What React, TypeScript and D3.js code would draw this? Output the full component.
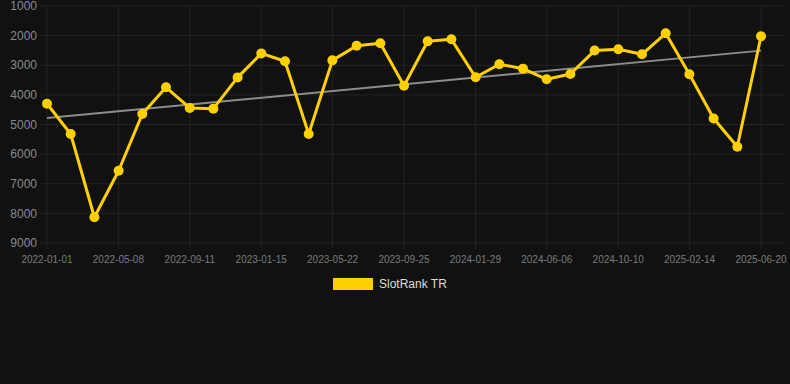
import React from "react";
import * as d3 from "d3";

const dates = [
  "2022-01-01", "2022-02-12", "2022-03-26", "2022-05-08", "2022-06-19", "2022-07-31",
  "2022-09-11", "2022-10-23", "2022-12-05", "2023-01-16", "2023-02-27", "2023-04-10",
  "2023-05-22", "2023-07-04", "2023-08-15", "2023-09-26", "2023-11-07", "2023-12-19",
  "2024-01-31", "2024-03-13", "2024-04-24", "2024-06-05", "2024-07-17", "2024-08-29",
  "2024-10-10", "2024-11-21", "2025-01-02", "2025-02-13", "2025-03-28", "2025-05-09",
  "2025-06-20",
];
const ranks = [
  4300, 5320, 8130, 6560, 4645, 3745, 4440, 4465, 3410, 2600, 2865, 5320, 2835, 2340,
  2260, 3690, 2190, 2125, 3405, 2965, 3115, 3475, 3295, 2505, 2460, 2630, 1920, 3305,
  4800, 5750, 2020,
];
const yTicks = [1000, 2000, 3000, 4000, 5000, 6000, 7000, 8000, 9000];
const xTickLabels = [
  "2022-01-01", "2022-05-08", "2022-09-11", "2023-01-15", "2023-05-22", "2023-09-25",
  "2024-01-29", "2024-06-06", "2024-10-10", "2025-02-14", "2025-06-20",
];
const seriesName = "SlotRank TR";

const W = 790;
const H = 384;
const left = 40;
const right = 785;
const x0 = 47;
const x1 = 761;
const top = 6;
const bottom = 243;

export default function App() {
  const parse = d3.timeParse("%Y-%m-%d");
  const pts = dates.map((d, i) => ({ t: parse(d)!, v: ranks[i] }));
  const x = d3
    .scaleTime()
    .domain([parse(dates[0])!, parse(dates[dates.length - 1])!])
    .range([x0, x1]);
  const y = d3.scaleLinear().domain([1000, 9000]).range([top, bottom]);

  const line = d3
    .line<{ t: Date; v: number }>()
    .x((d) => x(d.t))
    .y((d) => y(d.v));

  // linear regression for trend
  const xs = pts.map((p) => +p.t);
  const mx = d3.mean(xs)!;
  const my = d3.mean(ranks)!;
  let num = 0;
  let den = 0;
  xs.forEach((xv, i) => {
    num += (xv - mx) * (ranks[i] - my);
    den += (xv - mx) * (xv - mx);
  });
  const slope = num / den;
  const trendAt = (t: number) => my + slope * (t - mx);
  const tStart = xs[0];
  const tEnd = xs[xs.length - 1];

  const xTickPos = d3.range(xTickLabels.length).map(
    (i) => x0 + ((x1 - x0) * i) / (xTickLabels.length - 1)
  );

  return (
    <div style={{ position: "fixed", left: 0, top: 0, width: W, height: H }}>
      <svg width={W} height={H} style={{ display: "block", background: "#111111" }}>
        <rect x={0} y={0} width={W} height={H} fill="#111111" />
        {yTicks.map((t) => (
          <line
            key={"gy" + t}
            x1={left}
            x2={right}
            y1={y(t)}
            y2={y(t)}
            stroke="#232323"
            strokeWidth={1}
          />
        ))}
        {xTickPos.map((px, i) => (
          <line
            key={"gx" + i}
            x1={px}
            x2={px}
            y1={top}
            y2={bottom + 6}
            stroke="#232323"
            strokeWidth={1}
          />
        ))}
        {yTicks.map((t) => (
          <text
            key={"ty" + t}
            x={37}
            y={y(t)}
            dy="0.35em"
            textAnchor="end"
            fontFamily="Liberation Sans, Arial, sans-serif"
            fontSize={12}
            fill="#8a8a8a"
          >
            {t}
          </text>
        ))}
        {xTickLabels.map((l, i) => (
          <text
            key={"tx" + i}
            x={xTickPos[i]}
            y={259}
            dy="0.35em"
            textAnchor="middle"
            fontFamily="Liberation Sans, Arial, sans-serif"
            fontSize={10}
            fill="#7a7a7a"
          >
            {l}
          </text>
        ))}
        <line
          x1={x(new Date(tStart))}
          y1={y(trendAt(tStart))}
          x2={x(new Date(tEnd))}
          y2={y(trendAt(tEnd))}
          stroke="#8c8c8c"
          strokeWidth={2}
        />
        <path
          d={line(pts) || ""}
          fill="none"
          stroke="#FFD000"
          strokeWidth={3}
          strokeLinejoin="round"
        />
        {pts.map((p, i) => (
          <circle key={"p" + i} cx={x(p.t)} cy={y(p.v)} r={5} fill="#FFD000" />
        ))}
        <rect x={333} y={278} width={40} height={12} fill="#FFD000" />
        <text
          x={379}
          y={284}
          dy="0.35em"
          fontFamily="Liberation Sans, Arial, sans-serif"
          fontSize={12}
          fill="#dddddd"
        >
          {seriesName}
        </text>
      </svg>
    </div>
  );
}
